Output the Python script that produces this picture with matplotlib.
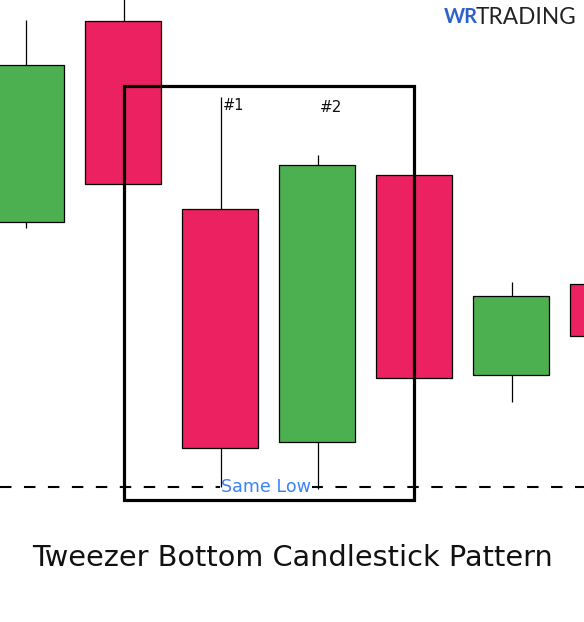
import matplotlib
matplotlib.use("Agg")
import matplotlib.pyplot as plt
from matplotlib.patches import Rectangle

# candle values, price scale is just pixels from the bottom of the picture
candle_pos = [0, 1, 2, 3, 4, 5, 6]
candle_bottom = [400, 438, 174, 180, 244, 247, 286]
candle_top = [557, 601, 413, 457, 447, 326, 338]
wick_low = [394, 438, 135, 133, 244, 220, 286]
wick_high = [602, 640, 525, 467, 447, 340, 338]
candle_type = ["up", "down", "down", "up", "down", "up", "down"]

same_low = 135
box_left, box_right = 1.0, 3.995
box_low, box_high = 122, 536

colors = {"up": "#4CAF50", "down": "#EC2161"}

fig = plt.figure(figsize=(5.84, 6.22), dpi=100)
ax = fig.add_axes([0, 0, 1, 1])
ax.set_xlim(-26.5 / 97, 557.5 / 97)
ax.set_ylim(0, 622)
ax.axis("off")

ax.axhline(same_low, color="black", lw=1.5, dashes=(5.5, 6), zorder=1)

# label sits under the wicks but hides the dashed line
ax.text(2.47, 135, "Same Low", fontsize=12.6, ha="center", va="center", color="#3B82F6", zorder=1.5,
        bbox=dict(facecolor="white", edgecolor="none", pad=0.5))

for pos, bottom, top, low, high, kind in zip(candle_pos, candle_bottom, candle_top, wick_low, wick_high, candle_type):
    ax.vlines(pos, low, high, color="black", lw=0.9, zorder=2)
    ax.add_patch(Rectangle((pos - 0.398, bottom), 0.785, top - bottom, facecolor=colors[kind],
                           edgecolor="black", lw=0.9, zorder=3))

ax.add_patch(Rectangle((box_left, box_low), box_right - box_left, box_high - box_low,
                       fill=False, edgecolor="black", lw=2.3, zorder=4))

ax.text(2.02, 517, "#1", fontsize=10.5, ha="left", va="center", color="#111111", zorder=5)
ax.text(3.135, 515, "#2", fontsize=11, ha="center", va="center", color="#111111", zorder=5)

ax.text(2.74, 64, "Tweezer Bottom Candlestick Pattern", fontsize=20.7, ha="center", va="center", color="#111111")

ax.text(4.30, 605, "WR", fontsize=14.5, fontfamily="Lato", fontweight="bold", ha="left", va="center", color="#2F62C9")
ax.text(4.635, 605, "TRADING", fontsize=16.3, fontfamily="Lato", ha="left", va="center", color="#222222")

fig.savefig("out.png", dpi=100)
